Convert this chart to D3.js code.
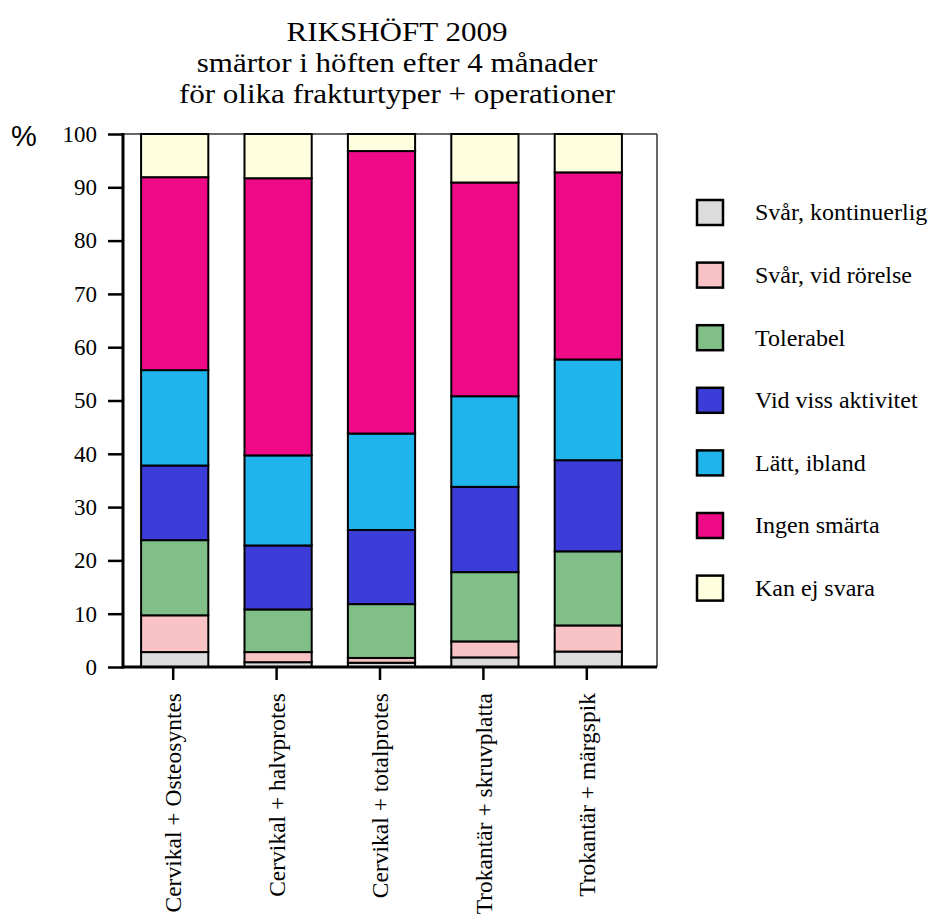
<!DOCTYPE html>
<html><head><meta charset="utf-8">
<script src="https://cdn.jsdelivr.net/npm/d3@7"></script>
<style>body{margin:0;background:#fff}</style>
</head><body>
<svg id="c" width="930" height="924"></svg>
<script>
const categories = ["Cervikal + Osteosyntes","Cervikal + halvprotes","Cervikal + totalprotes","Trokantär + skruvplatta","Trokantär + märgspik"];
const seriesNames = ["Svår, kontinuerlig","Svår, vid rörelse","Tolerabel","Vid viss aktivitet","Lätt, ibland","Ingen smärta","Kan ej svara"];
const seriesColors = ["#dcdcdc","#f9c2c4","#80c088","#3c3cd8","#20b4ec","#f00a88","#ffffe0"];
const svarKontinuerlig = [2.8, 0.9, 0.8, 1.8, 2.9];
const svarVidRorelse   = [6.9, 1.9, 0.9, 3.0, 4.9];
const tolerabel        = [14.1, 8.0, 10.1, 13.0, 13.9];
const vidVissAktivitet = [14.0, 12.0, 13.9, 16.0, 17.1];
const lattIbland       = [17.9, 16.9, 18.1, 17.0, 18.9];
const ingenSmarta      = [36.2, 52.0, 53.0, 40.1, 35.1];
const kanEjSvara       = [8.1, 8.3, 3.2, 9.1, 7.2];
const yTicks = [0,10,20,30,40,50,60,70,80,90,100];
const titleLines = ["RIKSHÖFT 2009","smärtor i höften efter 4 månader","för olika frakturtyper + operationer"];

(function(){
const seriesValues = [svarKontinuerlig, svarVidRorelse, tolerabel, vidVissAktivitet, lattIbland, ingenSmarta, kanEjSvara];
const rows = categories.map((c,i)=>{const o={cat:c}; seriesNames.forEach((s,j)=>o[s]=seriesValues[j][i]); return o;});
const stacked = d3.stack().keys(seriesNames)(rows);

const svg = d3.select("#c");
const serif = "'Liberation Serif','Times New Roman',serif";
const pL=123, pR=657, pT=134, pB=667;
const x = d3.scaleBand().domain(categories).range([123,640]).paddingInner(0.35).paddingOuter(0.175);
const y = d3.scaleLinear().domain([0,100]).range([pB, pT]);

svg.append("g").selectAll("text").data(titleLines).join("text")
  .attr("transform",(d,i)=>`translate(397,${41+i*31}) scale(1.15,1)`).attr("text-anchor","middle")
  .style("font-family",serif).style("font-size","27px").text(d=>d);

svg.append("line").attr("x1",pL).attr("x2",pR).attr("y1",pT).attr("y2",pT).attr("stroke","#333").attr("stroke-width",1.5);
svg.append("line").attr("x1",pR).attr("x2",pR).attr("y1",pT).attr("y2",pB).attr("stroke","#333").attr("stroke-width",1.5);

const color = d3.scaleOrdinal().domain(seriesNames).range(seriesColors);
svg.append("g").selectAll("g").data(stacked).join("g").attr("fill",d=>color(d.key))
  .selectAll("rect").data(d=>d).join("rect")
  .attr("x",d=>x(d.data.cat)).attr("width",x.bandwidth())
  .attr("y",d=>y(d[1])).attr("height",d=>y(d[0])-y(d[1]))
  .attr("stroke","#000").attr("stroke-width",2);

const yAxis = svg.append("g").attr("transform",`translate(${pL},0)`)
  .call(d3.axisLeft(y).tickValues(yTicks).tickSize(15).tickPadding(11));
yAxis.select(".domain").attr("stroke-width",3).attr("d",`M0,${pT-1}V${pB+1.5}`);
yAxis.selectAll(".tick line").attr("stroke-width",2.5);
yAxis.selectAll("text").style("font-family",serif).style("font-size","23px").attr("fill","#000");

const xAxis = svg.append("g").attr("transform",`translate(-1.5,${pB})`)
  .call(d3.axisBottom(x).tickSize(13).tickPadding(0));
xAxis.select(".domain").attr("stroke-width",3).attr("d",`M${pL+1.5},0H${pR+1.5}`);
xAxis.selectAll(".tick line").attr("stroke-width",2.5);
xAxis.selectAll("text").attr("transform","rotate(-90)").attr("x",-26).attr("y",0).attr("dy","0.35em")
  .attr("text-anchor","end").style("font-family",serif).style("font-size","23.5px").attr("fill","#000");

svg.append("text").attr("x",11).attr("y",146).style("font-family","'Liberation Sans',Arial,sans-serif").style("font-size","29px").text("%");

const leg = svg.append("g").selectAll("g").data(seriesNames).join("g")
  .attr("transform",(d,i)=>`translate(697,${212+i*62.6})`);
leg.append("rect").attr("x",0).attr("y",-12).attr("width",26).attr("height",25).attr("fill",d=>color(d)).attr("stroke","#000").attr("stroke-width",2.5);
leg.append("text").attr("x",58).attr("y",0).attr("dy","0.35em").style("font-family",serif).style("font-size","24px").text(d=>d);
})();
</script>
</body></html>
